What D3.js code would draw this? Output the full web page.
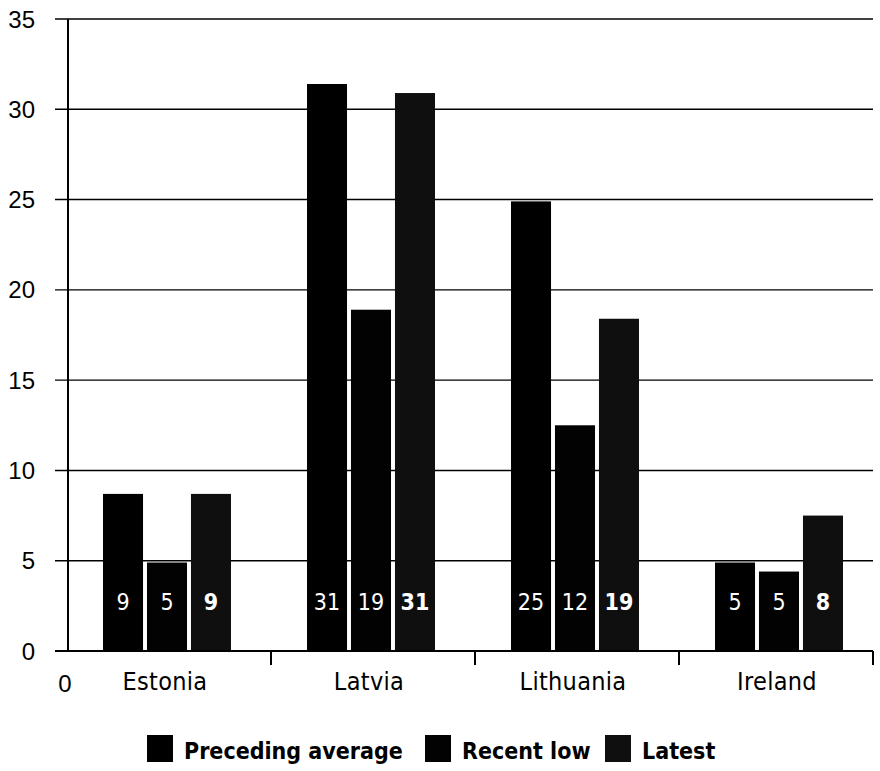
<!DOCTYPE html>
<html>
<head>
<meta charset="utf-8">
<script src="https://cdn.jsdelivr.net/npm/d3@7"></script>
<style>
  body { margin: 0; background: #fff; }
  svg { display: block; }
</style>
</head>
<body>
<svg id="chart" width="880" height="771"></svg>
<script>
// values
var countries = ["Estonia", "Latvia", "Lithuania", "Ireland"];
var seriesNames = ["Preceding average", "Recent low", "Latest"];
var precedingAvg = [8.7, 31.4, 24.9, 4.9];
var recentLow = [4.9, 18.9, 12.5, 4.4];
var latest = [8.7, 30.9, 18.4, 7.5];
var barLabels = [["9", "5", "9"], ["31", "19", "31"], ["25", "12", "19"], ["5", "5", "8"]];
var yTicks = [0, 5, 10, 15, 20, 25, 30, 35];
var seriesColors = ["#000000", "#020202", "#0f0f0f"];

var svg = d3.select("#chart");

var plotLeft = 68, plotRight = 873, gridLeft = 55;

var y = d3.scaleLinear().domain([0, 35]).range([651, 19]);
var x0 = d3.scaleBand().domain(countries).range([65, 881]);
var x1 = d3.scaleBand().domain(seriesNames).range([-64, 64]).paddingInner(0.09);

// gridlines
svg.append("g").selectAll("line")
    .data(yTicks.filter(function(d){ return d > 0; }))
    .enter().append("line")
    .attr("x1", gridLeft).attr("x2", plotRight)
    .attr("y1", function(d){ return y(d); })
    .attr("y2", function(d){ return y(d); })
    .attr("stroke", "#000").attr("stroke-width", 1.4);

// y tick labels
svg.append("g").selectAll("text")
    .data(yTicks)
    .enter().append("text")
    .attr("x", 35)
    .attr("y", function(d){ return y(d) + 8.5; })
    .attr("text-anchor", "end")
    .style("font-family", "'Liberation Sans', Arial, sans-serif")
    .style("font-size", "24px")
    .text(function(d){ return d; });

// bars
var rows = countries.map(function(c, i){
    return { country: c, values: [precedingAvg[i], recentLow[i], latest[i]], labels: barLabels[i] };
});

var groups = svg.append("g").selectAll("g")
    .data(rows)
    .enter().append("g")
    .attr("transform", function(d){ return "translate(" + (x0(d.country) + x0.bandwidth() / 2) + ",0)"; });

groups.selectAll("rect")
    .data(function(d){ return d.values.map(function(v, j){ return { s: seriesNames[j], v: v, j: j }; }); })
    .enter().append("rect")
    .attr("x", function(d){ return x1(d.s); })
    .attr("width", x1.bandwidth())
    .attr("y", function(d){ return y(d.v); })
    .attr("height", function(d){ return y(0) - y(d.v); })
    .attr("fill", function(d){ return seriesColors[d.j]; });

groups.selectAll("text")
    .data(function(d){ return d.labels.map(function(l, j){ return { s: seriesNames[j], l: l, j: j }; }); })
    .enter().append("text")
    .attr("x", function(d){ return x1(d.s) + x1.bandwidth() / 2; })
    .attr("y", 610)
    .attr("text-anchor", "middle")
    .attr("fill", "#fff")
    .style("font-family", "'DejaVu Sans Condensed', 'DejaVu Sans', sans-serif")
    .style("font-size", "23px")
    .style("font-weight", function(d){ return d.j == 2 ? "bold" : "normal"; })
    .text(function(d){ return d.l; });

// axes
svg.append("line")
    .attr("x1", plotLeft).attr("x2", plotLeft)
    .attr("y1", y(35)).attr("y2", y(0))
    .attr("stroke", "#000").attr("stroke-width", 2);

svg.append("line")
    .attr("x1", gridLeft).attr("x2", plotRight)
    .attr("y1", y(0)).attr("y2", y(0))
    .attr("stroke", "#000").attr("stroke-width", 2);

var tickX = countries.slice(1).map(function(c){ return x0(c) + 2; }).concat([plotRight]);
svg.append("g").selectAll("line")
    .data(tickX)
    .enter().append("line")
    .attr("x1", function(d){ return d; }).attr("x2", function(d){ return d; })
    .attr("y1", y(0)).attr("y2", y(0) + 14)
    .attr("stroke", "#000").attr("stroke-width", 2);

// category labels
svg.append("g").selectAll("text")
    .data(countries)
    .enter().append("text")
    .attr("x", function(d){ return x0(d) + x0.bandwidth() / 2 - 2; })
    .attr("y", 690)
    .attr("text-anchor", "middle")
    .style("font-family", "'DejaVu Sans Condensed', 'DejaVu Sans', sans-serif")
    .style("font-size", "25px")
    .style("letter-spacing", "0.3px")
    .text(function(d){ return d; });

// stray zero under the axis
svg.append("text")
    .attr("x", 65).attr("y", 692)
    .attr("text-anchor", "middle")
    .style("font-family", "'Liberation Sans', Arial, sans-serif")
    .style("font-size", "24px")
    .text("0");

// legend
var legendX = [147, 425, 605];
var legend = svg.append("g").selectAll("g")
    .data(seriesNames)
    .enter().append("g")
    .attr("transform", function(d, i){ return "translate(" + legendX[i] + ",735)"; });

legend.append("rect")
    .attr("width", 26).attr("height", 27)
    .attr("fill", function(d, i){ return seriesColors[i]; });

legend.append("text")
    .attr("x", 37).attr("y", 24)
    .style("font-family", "'DejaVu Sans Condensed', 'DejaVu Sans', sans-serif")
    .style("font-weight", "bold")
    .style("font-size", "23px")
    .text(function(d){ return d; });
</script>
</body>
</html>
